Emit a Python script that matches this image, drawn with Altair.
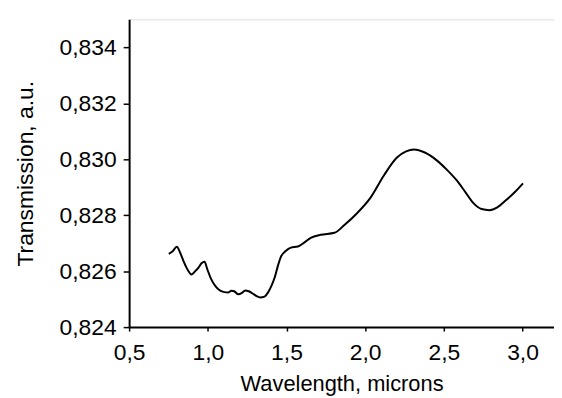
import altair as alt
import pandas as pd

# Wavelength (microns) and transmission (a.u.)
wavelength = [0.752, 0.775, 0.803, 0.825, 0.847, 0.872, 0.897, 0.920, 0.941, 0.960,
              0.979, 0.998, 1.017, 1.040, 1.067, 1.100, 1.131, 1.150, 1.168, 1.194,
              1.217, 1.238, 1.260, 1.282, 1.310, 1.332, 1.360, 1.383, 1.405, 1.427,
              1.445, 1.465, 1.495, 1.528, 1.572, 1.603, 1.654, 1.717, 1.805, 1.868,
              1.950, 2.032, 2.120, 2.202, 2.260, 2.310, 2.379, 2.455, 2.520, 2.581,
              2.640, 2.688, 2.740, 2.789, 2.840, 2.896, 2.950, 3.003]
transmission = [0.82662, 0.82670, 0.82687, 0.82665, 0.82634, 0.82605, 0.82588, 0.82600, 0.82613, 0.82628,
                0.82634, 0.82605, 0.82577, 0.82553, 0.82535, 0.82526, 0.82524, 0.82530, 0.82528, 0.82517,
                0.82522, 0.82531, 0.82528, 0.82521, 0.82511, 0.82506, 0.82509, 0.82524, 0.82548, 0.82581,
                0.82618, 0.82652, 0.82672, 0.82684, 0.82688, 0.82698, 0.82719, 0.82730, 0.82737, 0.82765,
                0.82808, 0.82861, 0.82943, 0.83006, 0.83028, 0.83035, 0.83024, 0.82996, 0.82962, 0.82925,
                0.82880, 0.82843, 0.82822, 0.82818, 0.82828, 0.82854, 0.82882, 0.82914]

x_ticks = [0.5, 1.0, 1.5, 2.0, 2.5, 3.0]
y_ticks = [0.824, 0.826, 0.828, 0.830, 0.832, 0.834]

df = pd.DataFrame({"wavelength": wavelength, "transmission": transmission})

FONT = "Liberation Sans"

chart = alt.Chart(df).mark_line(
    color="black", strokeWidth=2, interpolate="monotone"
).encode(
    x=alt.X(
        "wavelength:Q",
        scale=alt.Scale(domain=[0.5, 3.2], nice=False, zero=False),
        axis=alt.Axis(
            values=x_ticks,
            labelExpr="replace(format(datum.value, '.1f'), '.', ',')",
            title="Wavelength, microns",
            grid=False,
            domainColor="black", domainWidth=2,
            tickColor="black", tickSize=4, tickWidth=1.5,
            labelColor="black", labelFontSize=23, labelFont=FONT,
            labelPadding=11, labelFlush=False,
            titleColor="black", titleFontSize=22, titleFont=FONT,
            titleFontWeight="normal", titlePadding=9,
        ),
    ),
    y=alt.Y(
        "transmission:Q",
        scale=alt.Scale(domain=[0.824, 0.835], nice=False, zero=False),
        axis=alt.Axis(
            values=y_ticks,
            labelExpr="replace(format(datum.value, '.3f'), '.', ',')",
            title="Transmission, a.u.",
            grid=False,
            domainColor="black", domainWidth=2,
            tickColor="black", tickSize=6, tickWidth=1.5,
            labelColor="black", labelFontSize=23, labelFont=FONT,
            labelPadding=7, labelFlush=False,
            titleColor="black", titleFontSize=23, titleFont=FONT,
            titleFontWeight="normal", titlePadding=22,
        ),
    ),
).properties(
    width=428,
    height=310,
    autosize=alt.AutoSizeParams(type="none"),
    padding={"left": 122, "top": 10, "right": 0, "bottom": 72},
).configure_view(
    stroke=None
).configure(
    background="white"
)

chart.save("out.html", embed_options={"renderer": "svg", "actions": False})
